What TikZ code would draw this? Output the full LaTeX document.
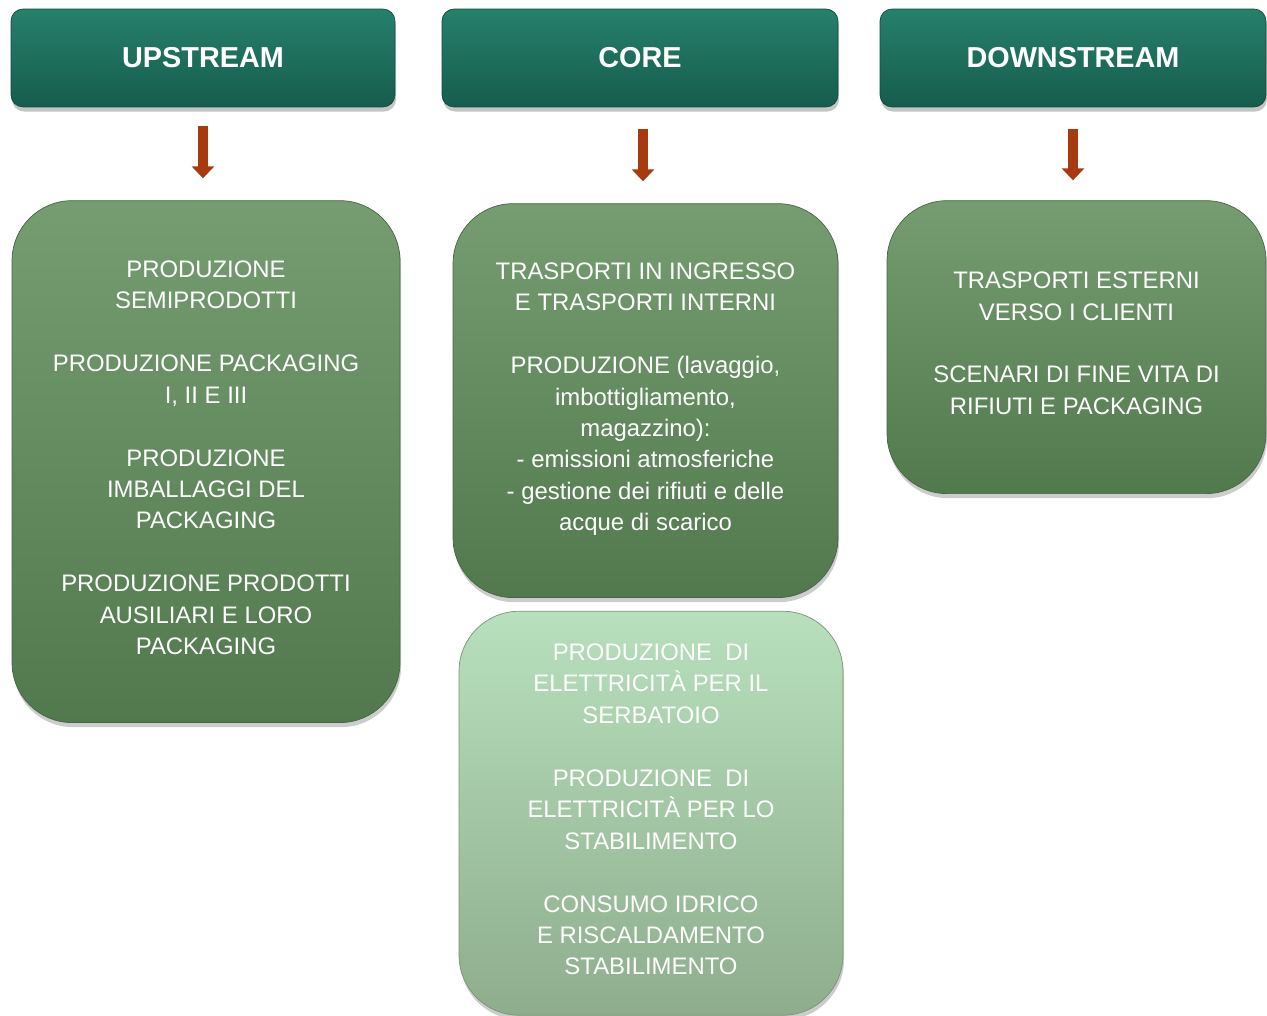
\documentclass[tikz,border=0pt]{standalone}
\usepackage{fontspec}
\setmainfont{Liberation Sans}
\usepackage{tikz}
\usetikzlibrary{
	arrows.meta,
	positioning,
	shadows
}
\definecolor{headtop}{RGB}{38,128,108}
\definecolor{headbot}{RGB}{22,92,76}
\definecolor{bodytop}{RGB}{118,157,113}
\definecolor{bodybot}{RGB}{82,120,78}
\definecolor{lighttop}{RGB}{184,224,188}
\definecolor{lightbot}{RGB}{142,173,140}
\definecolor{arrowred}{RGB}{168,58,16}
\tikzset{
	node distance=1.84cm,
	head/.style={
		rectangle, rounded corners=0.24cm,
		top color=headtop, bottom color=headbot,
		draw=headbot!80!black, line width=0.4pt,
		drop shadow={shadow xshift=0.6pt, shadow yshift=-2.6pt, opacity=0.45},
		text=white, font=\fontsize{16.4pt}{19pt}\selectfont\bfseries,
		minimum height=1.96cm
	},
	phase/.style={
		rectangle, rounded corners=1.2cm,
		top color=bodytop, bottom color=bodybot,
		draw=bodybot!85!black, line width=0.4pt,
		drop shadow={shadow xshift=0.6pt, shadow yshift=-2.6pt, opacity=0.4},
		text=white, align=center,
		font=\fontsize{13.6pt}{17.9pt}\selectfont
	},
	lightphase/.style={
		phase,
		top color=lighttop, bottom color=lightbot,
		draw=lightbot!85!black
	},
	down arrow/.style={
		draw=arrowred, line width=0.2cm,
		-{Triangle[width=0.44cm, length=0.24cm]}
	}
}
\newcommand{\gap}{\\[17.9pt]}
\newcommand{\lift}{\\[-13.4pt]}

\begin{document}
\begin{tikzpicture}[x=0.02cm, y=-0.02cm]
	\useasboundingbox[fill=white] (0,0) rectangle (1267,1016);

	\draw
		node [head, minimum width=7.68cm] at (203,58)  (up)   {UPSTREAM}
		node [head, minimum width=7.92cm] at (640,58)  (core) {CORE}
		node [head, minimum width=7.72cm] at (1073,58) (down) {DOWNSTREAM}

		node [phase, minimum width=7.76cm, minimum height=10.44cm,
			below=1.86cm of up, xshift=0.06cm] (upbody)
			{PRODUZIONE\\ SEMIPRODOTTI\gap
			 PRODUZIONE PACKAGING\\ I, II E III\gap
			 PRODUZIONE\\ IMBALLAGGI DEL\\ PACKAGING\gap
			 PRODUZIONE PRODOTTI\\ AUSILIARI E LORO\\ PACKAGING\lift}
		node [phase, minimum width=7.7cm, minimum height=7.88cm,
			below=1.92cm of core, xshift=0.11cm] (corebody)
			{TRASPORTI IN INGRESSO\\ E TRASPORTI INTERNI\gap
			 PRODUZIONE (lavaggio,\\ imbottigliamento,\\ magazzino):\\
			 - emissioni atmosferiche\\ - gestione dei rifiuti e delle\\ acque di scarico\lift}
		node [lightphase, minimum width=7.68cm, minimum height=8.08cm,
			below=0.26cm of corebody, xshift=0.11cm] (corelow)
			{PRODUZIONE~ DI\\ ELETTRICITÀ PER IL\\ SERBATOIO\gap
			 PRODUZIONE~ DI\\ ELETTRICITÀ PER LO\\ STABILIMENTO\gap
			 CONSUMO IDRICO\\ E RISCALDAMENTO\\ STABILIMENTO\lift}
		node [phase, minimum width=7.58cm, minimum height=5.86cm,
			below=1.86cm of down, xshift=0.07cm] (downbody)
			{TRASPORTI ESTERNI\\ VERSO I CLIENTI\gap
			 SCENARI DI FINE VITA DI\\ RIFIUTI E PACKAGING\lift}
	;

	% frecce tra fase e contenuto
	\draw[down arrow, shorten <=0.38cm, shorten >=0.44cm] (up.south)   -- (up.south |- upbody.north);
	\draw[down arrow, shorten <=0.44cm, shorten >=0.44cm] ([xshift=0.06cm]core.south) -- ([xshift=0.06cm]core.south |- corebody.north);
	\draw[down arrow, shorten <=0.44cm, shorten >=0.4cm] (down.south) -- (down.south |- downbody.north);
\end{tikzpicture}
\end{document}
